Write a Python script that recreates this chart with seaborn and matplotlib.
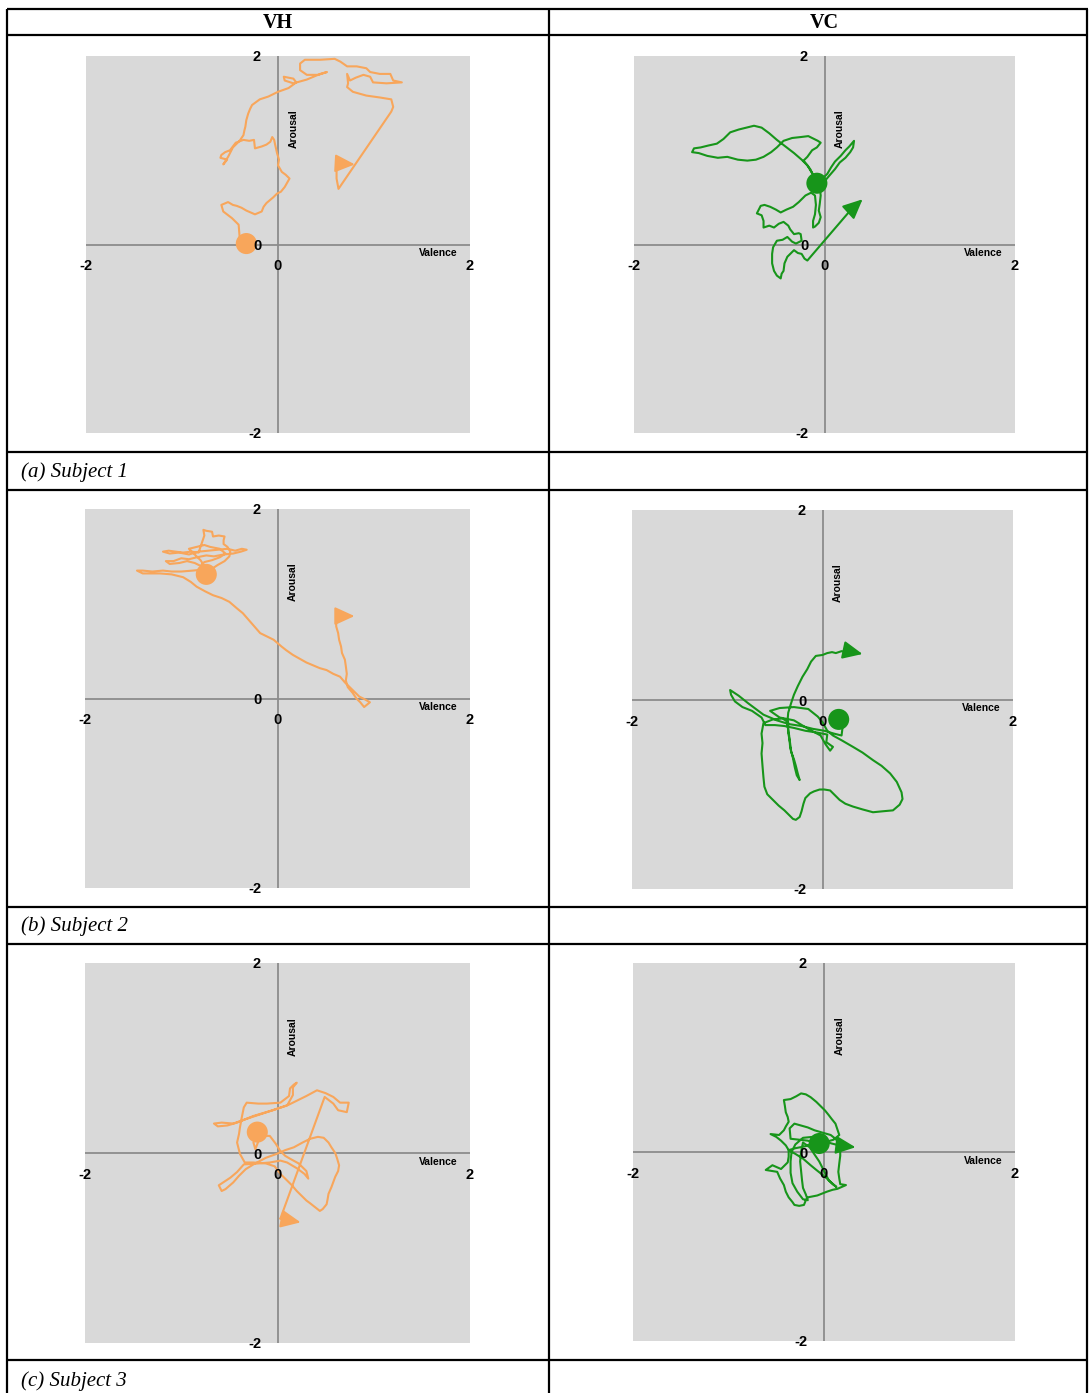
import matplotlib
matplotlib.use("Agg")
import matplotlib.pyplot as plt
import pandas as pd
import seaborn as sns

# Valence / arousal trajectories, one list of (valence, arousal) samples per panel.
# First sample is the large dot, last sample is the arrow tip.
s1_vh = [
    (-0.33, 0.01), (-0.40, 0.08), (-0.41, 0.21), (-0.45, 0.25), (-0.48, 0.28), (-0.57, 0.35),
    (-0.59, 0.42), (-0.52, 0.45), (-0.47, 0.42), (-0.43, 0.41), (-0.38, 0.39), (-0.33, 0.36),
    (-0.24, 0.32), (-0.17, 0.35), (-0.15, 0.40), (-0.12, 0.44), (-0.05, 0.50), (-0.01, 0.54),
    (0.03, 0.56), (0.07, 0.61), (0.12, 0.70), (0.08, 0.74), (0.04, 0.77), (0.00, 0.84),
    (0.01, 0.90), (-0.01, 0.97), (-0.03, 1.06), (-0.04, 1.11), (-0.06, 1.14), (-0.08, 1.09),
    (-0.12, 1.06), (-0.17, 1.04), (-0.24, 1.02), (-0.25, 1.11), (-0.30, 1.10), (-0.36, 1.11),
    (-0.44, 1.08), (-0.50, 1.00), (-0.55, 0.98), (-0.59, 0.95), (-0.60, 0.92), (-0.53, 0.90),
    (-0.57, 0.85), (-0.52, 0.93), (-0.47, 1.03), (-0.40, 1.10), (-0.36, 1.16), (-0.35, 1.21),
    (-0.34, 1.25), (-0.33, 1.32), (-0.31, 1.39), (-0.29, 1.44), (-0.27, 1.48), (-0.19, 1.54),
    (-0.10, 1.57), (0.00, 1.62), (0.11, 1.66), (0.19, 1.72), (0.16, 1.76), (0.06, 1.78),
    (0.07, 1.74), (0.16, 1.71), (0.30, 1.75), (0.44, 1.81), (0.51, 1.83), (0.42, 1.80),
    (0.30, 1.80), (0.23, 1.85), (0.23, 1.92), (0.28, 1.96), (0.44, 1.96), (0.59, 1.97),
    (0.65, 1.94), (0.72, 1.89), (0.82, 1.89), (0.92, 1.87), (0.96, 1.83), (1.06, 1.81),
    (1.17, 1.81), (1.20, 1.74), (1.29, 1.72), (1.13, 1.71), (0.99, 1.72), (0.96, 1.78),
    (0.89, 1.80), (0.81, 1.77), (0.75, 1.74), (0.72, 1.81), (0.73, 1.71), (0.72, 1.67),
    (0.78, 1.62), (0.92, 1.58), (1.06, 1.56), (1.18, 1.54), (1.20, 1.46), (1.18, 1.41),
    (0.63, 0.59), (0.61, 0.70), (0.61, 0.81), (0.62, 0.86), (0.80, 0.85),
]

s1_vc = [
    (-0.08, 0.65), (-0.12, 0.74), (-0.18, 0.84), (-0.24, 0.90), (-0.32, 0.97), (-0.41, 1.04),
    (-0.50, 1.11), (-0.58, 1.18), (-0.66, 1.24), (-0.74, 1.26), (-0.82, 1.24), (-0.90, 1.22),
    (-0.99, 1.19), (-1.06, 1.12), (-1.13, 1.07), (-1.22, 1.05), (-1.30, 1.03), (-1.37, 1.02),
    (-1.39, 0.98), (-1.32, 0.97), (-1.23, 0.94), (-1.12, 0.92), (-1.02, 0.93), (-0.91, 0.90),
    (-0.81, 0.89), (-0.72, 0.90), (-0.64, 0.93), (-0.56, 0.98), (-0.50, 1.03), (-0.43, 1.10),
    (-0.34, 1.13), (-0.25, 1.14), (-0.17, 1.15), (-0.13, 1.13), (-0.07, 1.10), (-0.04, 1.08),
    (-0.08, 1.03), (-0.13, 1.00), (-0.18, 0.93), (-0.22, 0.89), (-0.18, 0.84), (-0.15, 0.80),
    (-0.12, 0.74), (-0.09, 0.69), (-0.02, 0.70), (0.03, 0.75), (0.07, 0.82), (0.11, 0.88),
    (0.17, 0.94), (0.22, 1.00), (0.26, 1.04), (0.31, 1.10), (0.30, 1.03), (0.27, 0.98),
    (0.22, 0.92), (0.16, 0.87), (0.11, 0.80), (0.05, 0.73), (0.00, 0.67), (-0.05, 0.61),
    (-0.04, 0.52), (-0.05, 0.43), (-0.06, 0.36), (-0.04, 0.29), (-0.06, 0.23), (-0.10, 0.19),
    (-0.12, 0.18), (-0.12, 0.25), (-0.10, 0.32), (-0.09, 0.42), (-0.10, 0.52), (-0.14, 0.55),
    (-0.20, 0.52), (-0.27, 0.45), (-0.33, 0.40), (-0.40, 0.37), (-0.46, 0.34), (-0.51, 0.37),
    (-0.57, 0.40), (-0.63, 0.42), (-0.67, 0.41), (-0.71, 0.33), (-0.66, 0.31), (-0.64, 0.25),
    (-0.64, 0.18), (-0.58, 0.20), (-0.53, 0.18), (-0.48, 0.22), (-0.43, 0.24), (-0.38, 0.20),
    (-0.36, 0.16), (-0.32, 0.11), (-0.27, 0.12), (-0.25, 0.11), (-0.24, 0.04), (-0.30, 0.01),
    (-0.34, 0.03), (-0.39, 0.08), (-0.44, 0.05), (-0.50, 0.04), (-0.54, -0.03), (-0.55, -0.10),
    (-0.55, -0.20), (-0.53, -0.28), (-0.50, -0.33), (-0.46, -0.36), (-0.45, -0.31), (-0.43, -0.28),
    (-0.42, -0.20), (-0.39, -0.13), (-0.35, -0.09), (-0.32, -0.06), (-0.28, -0.09), (-0.24, -0.10),
    (-0.21, -0.15), (-0.18, -0.17), (0.27, 0.36), (0.40, 0.48),
]

s2_vh = [
    (-0.74, 1.31), (-0.68, 1.37), (-0.62, 1.41), (-0.55, 1.45), (-0.50, 1.50), (-0.49, 1.55),
    (-0.52, 1.60), (-0.56, 1.63), (-0.56, 1.67), (-0.55, 1.71), (-0.61, 1.72), (-0.67, 1.71),
    (-0.68, 1.76), (-0.74, 1.77), (-0.77, 1.78), (-0.76, 1.72), (-0.78, 1.66), (-0.80, 1.60),
    (-0.82, 1.54), (-0.90, 1.55), (-0.98, 1.54), (-1.06, 1.55), (-1.13, 1.56), (-1.19, 1.55),
    (-1.12, 1.53), (-1.02, 1.54), (-0.92, 1.52), (-0.82, 1.55), (-0.72, 1.56), (-0.62, 1.57),
    (-0.52, 1.58), (-0.44, 1.56), (-0.37, 1.58), (-0.32, 1.57), (-0.38, 1.55), (-0.46, 1.53),
    (-0.56, 1.52), (-0.66, 1.50), (-0.74, 1.51), (-0.84, 1.49), (-0.92, 1.47), (-1.00, 1.48),
    (-1.08, 1.45), (-1.16, 1.45), (-1.12, 1.42), (-1.02, 1.43), (-0.94, 1.45), (-0.86, 1.43),
    (-0.80, 1.40), (-0.76, 1.44), (-0.68, 1.46), (-0.60, 1.49), (-0.54, 1.53), (-0.60, 1.58),
    (-0.70, 1.60), (-0.76, 1.62), (-0.84, 1.60), (-0.92, 1.58), (-0.86, 1.52), (-0.80, 1.46),
    (-0.76, 1.40), (-0.78, 1.36), (-0.88, 1.35), (-1.00, 1.34), (-1.10, 1.34), (-1.19, 1.35),
    (-1.30, 1.34), (-1.40, 1.35), (-1.46, 1.35), (-1.40, 1.32), (-1.32, 1.32), (-1.22, 1.32),
    (-1.10, 1.31), (-0.98, 1.28), (-0.90, 1.23), (-0.84, 1.18), (-0.75, 1.13), (-0.67, 1.09),
    (-0.58, 1.06), (-0.50, 1.02), (-0.42, 0.95), (-0.36, 0.90), (-0.30, 0.83), (-0.24, 0.76),
    (-0.18, 0.69), (-0.10, 0.65), (-0.04, 0.62), (0.04, 0.55), (0.09, 0.51), (0.16, 0.46),
    (0.23, 0.42), (0.30, 0.38), (0.37, 0.35), (0.44, 0.32), (0.51, 0.30), (0.58, 0.26),
    (0.65, 0.23), (0.70, 0.17), (0.75, 0.12), (0.80, 0.07), (0.85, 0.02), (0.91, -0.01),
    (0.96, -0.04), (0.90, -0.09), (0.86, -0.04), (0.82, 0.00), (0.78, 0.06), (0.73, 0.12),
    (0.71, 0.19), (0.72, 0.26), (0.71, 0.34), (0.70, 0.41), (0.67, 0.48), (0.66, 0.55),
    (0.64, 0.62), (0.63, 0.69), (0.61, 0.76), (0.61, 0.82), (0.62, 0.87), (0.80, 0.87),
]

s2_vc = [
    (0.17, -0.21), (0.21, -0.30), (0.20, -0.38), (0.12, -0.36), (0.02, -0.33), (-0.10, -0.31),
    (-0.22, -0.28), (-0.35, -0.26), (-0.48, -0.22), (-0.55, -0.19), (-0.62, -0.16), (-0.70, -0.10),
    (-0.78, -0.04), (-0.88, 0.04), (-0.97, 0.10), (-0.96, 0.05), (-0.92, -0.02), (-0.84, -0.08),
    (-0.74, -0.12), (-0.64, -0.19), (-0.60, -0.27), (-0.50, -0.27), (-0.40, -0.28), (-0.30, -0.30),
    (-0.18, -0.33), (-0.05, -0.35), (0.05, -0.37), (0.04, -0.45), (0.11, -0.50), (0.08, -0.54),
    (0.03, -0.47), (-0.02, -0.38), (-0.15, -0.31), (-0.30, -0.22), (-0.45, -0.19), (-0.55, -0.12),
    (-0.45, -0.09), (-0.30, -0.08), (-0.15, -0.10), (-0.05, -0.18), (0.00, -0.24), (0.05, -0.33),
    (0.11, -0.38), (0.20, -0.43), (0.32, -0.50), (0.42, -0.56), (0.53, -0.64), (0.62, -0.70),
    (0.71, -0.78), (0.78, -0.87), (0.83, -0.98), (0.84, -1.05), (0.81, -1.11), (0.74, -1.17),
    (0.63, -1.18), (0.53, -1.19), (0.42, -1.16), (0.32, -1.13), (0.24, -1.10), (0.18, -1.06),
    (0.12, -1.00), (0.08, -0.96), (0.02, -0.95), (-0.03, -0.95), (-0.09, -0.97), (-0.13, -0.99),
    (-0.18, -1.04), (-0.20, -1.10), (-0.22, -1.18), (-0.24, -1.24), (-0.28, -1.27), (-0.31, -1.26),
    (-0.35, -1.22), (-0.40, -1.17), (-0.46, -1.12), (-0.52, -1.06), (-0.58, -1.00), (-0.61, -0.92),
    (-0.62, -0.82), (-0.63, -0.70), (-0.64, -0.57), (-0.63, -0.46), (-0.64, -0.36), (-0.62, -0.25),
    (-0.52, -0.21), (-0.42, -0.20), (-0.36, -0.24), (-0.36, -0.35), (-0.34, -0.46), (-0.33, -0.55),
    (-0.30, -0.63), (-0.28, -0.70), (-0.26, -0.78), (-0.24, -0.85), (-0.27, -0.80), (-0.29, -0.72),
    (-0.31, -0.62), (-0.34, -0.50), (-0.35, -0.38), (-0.37, -0.26), (-0.36, -0.14), (-0.33, -0.04),
    (-0.30, 0.05), (-0.26, 0.14), (-0.21, 0.24), (-0.16, 0.32), (-0.12, 0.40), (-0.07, 0.46),
    (0.00, 0.47), (0.05, 0.49), (0.10, 0.50), (0.14, 0.49), (0.20, 0.51), (0.26, 0.50),
    (0.28, 0.51), (0.42, 0.48),
]

s3_vh = [
    (-0.21, 0.22), (-0.25, 0.11), (-0.23, 0.04), (-0.20, 0.12), (-0.15, 0.18), (-0.08, 0.18),
    (-0.02, 0.10), (0.03, 0.02), (0.08, -0.03), (0.13, -0.06), (0.22, -0.11), (0.30, -0.19),
    (0.32, -0.27), (0.28, -0.22), (0.20, -0.16), (0.10, -0.10), (0.03, -0.08), (-0.08, -0.10),
    (-0.20, -0.11), (-0.35, -0.12), (-0.42, -0.20), (-0.49, -0.26), (-0.55, -0.30), (-0.61, -0.34),
    (-0.58, -0.40), (-0.54, -0.38), (-0.46, -0.31), (-0.40, -0.24), (-0.33, -0.17), (-0.25, -0.12),
    (-0.12, -0.05), (-0.01, -0.01), (0.08, 0.03), (0.17, 0.06), (0.26, 0.11), (0.34, 0.15),
    (0.42, 0.17), (0.48, 0.16), (0.53, 0.11), (0.56, 0.06), (0.60, 0.00), (0.62, -0.06),
    (0.64, -0.13), (0.63, -0.19), (0.60, -0.25), (0.56, -0.36), (0.53, -0.43), (0.52, -0.49),
    (0.51, -0.54), (0.47, -0.59), (0.44, -0.61), (0.39, -0.57), (0.34, -0.53), (0.30, -0.50),
    (0.25, -0.45), (0.20, -0.40), (0.15, -0.34), (0.10, -0.29), (0.03, -0.22), (-0.03, -0.14),
    (-0.12, -0.11), (-0.25, -0.10), (-0.34, -0.10), (-0.39, -0.01), (-0.42, 0.11), (-0.40, 0.20),
    (-0.39, 0.27), (-0.37, 0.38), (-0.35, 0.48), (-0.32, 0.53), (-0.20, 0.52), (-0.11, 0.52),
    (0.03, 0.53), (0.12, 0.60), (0.13, 0.68), (0.17, 0.72), (0.20, 0.74), (0.16, 0.69),
    (0.16, 0.61), (0.10, 0.50), (-0.11, 0.43), (-0.32, 0.36), (-0.46, 0.31), (-0.58, 0.32),
    (-0.66, 0.31), (-0.62, 0.28), (-0.52, 0.29), (-0.42, 0.32), (-0.25, 0.39), (-0.05, 0.45),
    (0.12, 0.51), (0.30, 0.60), (0.41, 0.66), (0.50, 0.63), (0.58, 0.59), (0.65, 0.53),
    (0.74, 0.53), (0.72, 0.43), (0.63, 0.45), (0.58, 0.52), (0.49, 0.59), (0.03, -0.69),
    (0.24, -0.73),
]

s3_vc = [
    (-0.05, 0.09), (0.03, 0.11), (0.10, 0.13), (0.16, 0.18), (0.14, 0.24), (0.12, 0.30),
    (0.08, 0.35), (0.05, 0.39), (0.01, 0.44), (-0.03, 0.48), (-0.08, 0.53), (-0.14, 0.58),
    (-0.19, 0.61), (-0.24, 0.62), (-0.29, 0.59), (-0.35, 0.56), (-0.42, 0.55), (-0.41, 0.49),
    (-0.40, 0.42), (-0.38, 0.37), (-0.37, 0.32), (-0.40, 0.27), (-0.42, 0.23), (-0.47, 0.18),
    (-0.56, 0.19), (-0.50, 0.16), (-0.45, 0.12), (-0.40, 0.07), (-0.37, 0.02), (-0.37, -0.05),
    (-0.38, -0.11), (-0.45, -0.18), (-0.54, -0.14), (-0.61, -0.19), (-0.55, -0.20), (-0.49, -0.21),
    (-0.46, -0.28), (-0.42, -0.35), (-0.40, -0.42), (-0.37, -0.48), (-0.33, -0.53), (-0.31, -0.56),
    (-0.26, -0.57), (-0.21, -0.56), (-0.19, -0.51), (-0.17, -0.48), (-0.12, -0.47), (-0.07, -0.46),
    (-0.02, -0.44), (0.03, -0.42), (0.09, -0.40), (0.14, -0.39), (0.23, -0.35), (0.17, -0.34),
    (0.16, -0.28), (0.15, -0.21), (0.16, -0.12), (0.17, -0.04), (0.17, 0.02), (0.16, 0.09),
    (0.12, 0.14), (0.07, 0.18), (0.00, 0.20), (-0.10, 0.23), (-0.17, 0.26), (-0.24, 0.28),
    (-0.31, 0.30), (-0.36, 0.25), (-0.35, 0.14), (-0.26, 0.13), (-0.17, 0.12), (-0.10, 0.10),
    (-0.20, 0.06), (-0.30, 0.04), (-0.37, 0.02), (-0.30, -0.02), (-0.22, -0.07), (-0.14, -0.14),
    (-0.08, -0.19), (-0.03, -0.23), (0.03, -0.28), (0.09, -0.34), (0.13, -0.37), (0.05, -0.30),
    (-0.05, -0.10), (-0.15, 0.05), (-0.22, 0.10), (-0.24, 0.00), (-0.25, -0.10), (-0.24, -0.20),
    (-0.23, -0.30), (-0.22, -0.38), (-0.19, -0.45), (-0.17, -0.51), (-0.22, -0.50), (-0.28, -0.42),
    (-0.33, -0.33), (-0.35, -0.22), (-0.35, -0.10), (-0.34, 0.00), (-0.30, 0.08), (-0.22, 0.15),
    (-0.12, 0.16), (-0.02, 0.12), (0.08, 0.09), (0.16, 0.07), (0.33, 0.05),
]

column_titles = ["VH", "VC"]
row_captions = ["(a) Subject 1", "(b) Subject 2", "(c) Subject 3"]
axis_ticks = ["-2", "0", "2"]

ORANGE = "#f8a65b"
GREEN = "#17951a"
PANEL_BG = "#d9d9d9"
AXIS_GREY = "#8c8c8c"

W, H = 1089, 1393
fig = plt.figure(figsize=(W / 100, H / 100), dpi=100)
fig.patch.set_facecolor("white")

SANS = ["Liberation Sans", "DejaVu Sans"]
TICK_FONT = dict(family=SANS, fontsize=10.5, fontweight="bold", color="black", zorder=7)
NAME_FONT = dict(family=SANS, fontsize=7.5, fontweight="bold", color="black", zorder=7)
PX = 0.72  # points per pixel at 100 dpi


def draw_panel(rect, path, color):
    x0, y0, x1, y1 = rect
    ax = fig.add_axes([x0 / W, 1 - y1 / H, (x1 - x0) / W, (y1 - y0) / H])
    ax.set_facecolor(PANEL_BG)
    ax.set_xlim(-2, 2)
    ax.set_ylim(-2, 2)
    for sp in ax.spines.values():
        sp.set_visible(False)
    ax.set_xticks([])
    ax.set_yticks([])
    ax.axhline(0, color=AXIS_GREY, lw=1.3, zorder=1)
    ax.axvline(0, color=AXIS_GREY, lw=1.3, zorder=1)

    df = pd.DataFrame(path, columns=["Valence", "Arousal"])
    sns.lineplot(data=df.iloc[:-1], x="Valence", y="Arousal", sort=False,
                 estimator=None, color=color, lw=1.5, ax=ax, zorder=3)
    ax.annotate("", xy=tuple(df.iloc[-1]), xytext=tuple(df.iloc[-2]),
                arrowprops=dict(arrowstyle="-|>,head_length=1.2,head_width=0.55",
                                color=color, lw=1.5, mutation_scale=10,
                                shrinkA=0, shrinkB=0), zorder=4)
    sns.scatterplot(x=[df["Valence"].iloc[0]], y=[df["Arousal"].iloc[0]], s=230,
                    color=color, edgecolor="none", ax=ax, zorder=5, legend=False)
    ax.set_xlabel("")
    ax.set_ylabel("")

    # value labels along the two axes
    for val, lab in zip([-2, 0, 2], axis_ticks):
        ax.annotate(lab, xy=(val, 0), xytext=(0, -22 * PX), textcoords="offset points",
                    ha="center", va="center", annotation_clip=False, **TICK_FONT)
    ax.annotate(axis_ticks[2], xy=(0, 2), xytext=(-21 * PX, -1 * PX), textcoords="offset points",
                ha="center", va="center", annotation_clip=False, **TICK_FONT)
    ax.annotate(axis_ticks[0], xy=(0, -2), xytext=(-23 * PX, -1 * PX), textcoords="offset points",
                ha="center", va="center", annotation_clip=False, **TICK_FONT)
    ax.annotate(axis_ticks[1], xy=(0, 0), xytext=(-20 * PX, -2 * PX), textcoords="offset points",
                ha="center", va="center", annotation_clip=False, **TICK_FONT)
    ax.text(1.67, -0.09, "Valence", ha="center", va="center", **NAME_FONT)
    ax.text(0.16, 1.23, "Arousal", ha="center", va="center", rotation=90, **NAME_FONT)
    return ax


panels = [
    ((86, 56, 470, 433), s1_vh, ORANGE),
    ((634, 56, 1015, 433), s1_vc, GREEN),
    ((85, 509, 470, 888), s2_vh, ORANGE),
    ((632, 510, 1013, 889), s2_vc, GREEN),
    ((85, 963, 470, 1343), s3_vh, ORANGE),
    ((633, 963, 1015, 1341), s3_vc, GREEN),
]
for rect, path, color in panels:
    draw_panel(rect, path, color)

# table grid and captions in pixel coordinates
grid = fig.add_axes([0, 0, 1, 1], zorder=-1)
grid.set_xlim(0, W)
grid.set_ylim(H, 0)
grid.axis("off")
grid.hlines([9, 35, 452, 490, 907, 944, 1360], 7, 1088, color="black", lw=1.6)
grid.vlines([7, 549, 1087], 9, H, color="black", lw=1.6)

SERIF = ["Liberation Serif", "DejaVu Serif"]
for xc, title in zip([278, 824], column_titles):
    grid.text(xc, 23, title, ha="center", va="center", family=SERIF,
              fontsize=14.5, fontweight="bold")
for yc, cap in zip([472, 926, 1381], row_captions):
    grid.text(21, yc, cap, ha="left", va="center", family=SERIF,
              fontsize=15, style="italic")

fig.savefig("out.png", dpi=100)
